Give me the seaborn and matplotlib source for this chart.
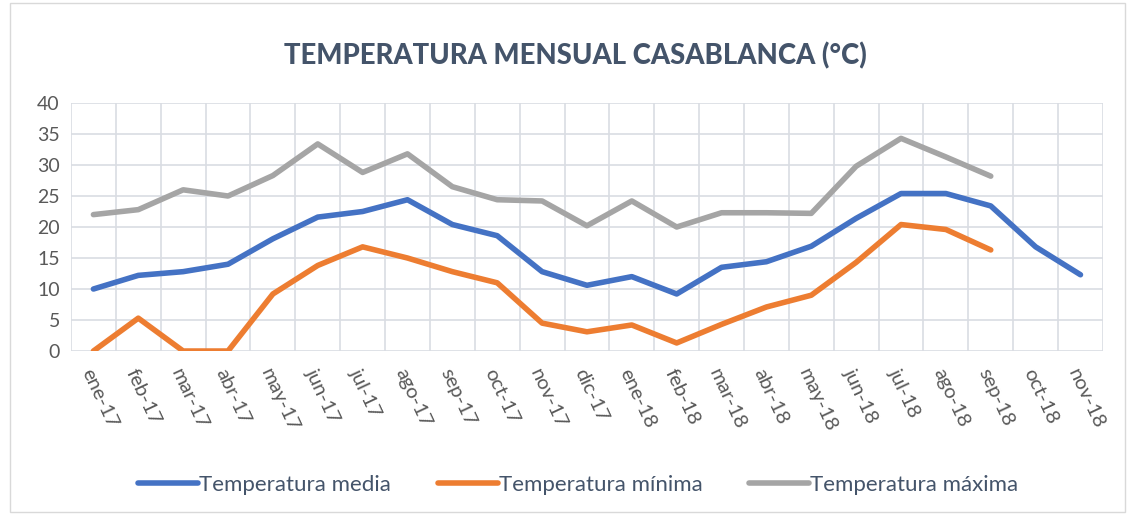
import matplotlib
matplotlib.use('Agg')

import matplotlib.pyplot as plt
import numpy as np
import pandas as pd
import seaborn as sns
from matplotlib.patches import Rectangle

# Datos
meses = ['ene-17', 'feb-17', 'mar-17', 'abr-17', 'may-17', 'jun-17', 'jul-17',
         'ago-17', 'sep-17', 'oct-17', 'nov-17', 'dic-17', 'ene-18', 'feb-18',
         'mar-18', 'abr-18', 'may-18', 'jun-18', 'jul-18', 'ago-18', 'sep-18',
         'oct-18', 'nov-18']
temp_media = [10.0, 12.2, 12.8, 14.0, 18.1, 21.6, 22.5, 24.4, 20.4, 18.6, 12.8, 10.6,
              12.0, 9.2, 13.5, 14.4, 16.9, 21.4, 25.4, 25.4, 23.4, 16.8, 12.3]
temp_minima = [0.0, 5.3, 0.0, 0.0, 9.2, 13.8, 16.8, 15.0, 12.8, 11.0, 4.5, 3.1,
               4.2, 1.3, 4.3, 7.1, 9.0, 14.3, 20.4, 19.6, 16.3, np.nan, np.nan]
temp_maxima = [22.0, 22.8, 26.0, 25.0, 28.3, 33.4, 28.8, 31.8, 26.5, 24.4, 24.2, 20.2,
               24.2, 20.0, 22.3, 22.3, 22.2, 29.8, 34.3, 31.3, 28.2, np.nan, np.nan]
series = ['Temperatura media', 'Temperatura mínima', 'Temperatura máxima']
y_ticks = [0, 5, 10, 15, 20, 25, 30, 35, 40]

colores = ['#4472C4', '#ED7D31', '#A5A5A5']
texto = '#595959'

df = pd.DataFrame({
    'pos': np.tile(np.arange(len(meses)), 3),
    'serie': np.repeat(series, len(meses)),
    'valor': temp_media + temp_minima + temp_maxima,
}).dropna()

sns.set_style('white')
plt.rcParams['font.family'] = ['Lato', 'DejaVu Sans']

fig = plt.figure(figsize=(11.34, 5.15), dpi=100)
ax = fig.add_axes([0.0626, 0.3184, 0.91, 0.4816])

sns.lineplot(data=df, x='pos', y='valor', hue='serie', hue_order=series,
             palette=colores, linewidth=4, sort=False, ax=ax,
             solid_capstyle='round', solid_joinstyle='round')

ax.set_xlim(-0.5, len(meses) - 0.5)
ax.set_ylim(0, 40)
ax.set_yticks(y_ticks)
ax.set_xticks(np.arange(len(meses)))
ax.set_xticklabels(meses, rotation=-65, ha='left', va='top', rotation_mode='anchor')
ax.set_xticks(np.arange(len(meses) + 1) - 0.5, minor=True)
ax.tick_params(axis='x', which='both', length=0, labelsize=14.5, colors=texto, pad=11)
ax.tick_params(axis='y', length=0, labelsize=14, colors=texto, pad=8)
ax.grid(axis='y', which='major', color='#D9DDE3', linewidth=1.2)
ax.grid(axis='x', which='minor', color='#D9DDE3', linewidth=1.2)
ax.set_axisbelow(True)
for s in ax.spines.values():
    s.set_visible(False)
ax.set_xlabel('')
ax.set_ylabel('')

ax.set_title('TEMPERATURA MENSUAL CASABLANCA (°C)', fontsize=19.8, fontweight='black',
             color='#44546A', pad=28, x=0.489)

handles, labels = ax.get_legend_handles_labels()
ax.legend(handles, labels, loc='center', bbox_to_anchor=(0.51, 0.058),
          bbox_transform=fig.transFigure, ncol=3, frameon=False, fontsize=16,
          handlelength=2.7, handletextpad=0.05, columnspacing=2.1, labelcolor='#44546A')

fig.patches.append(Rectangle((0.009, 0.005), 0.983, 0.99, transform=fig.transFigure,
                             fill=False, edgecolor='#D9D9D9', linewidth=1))

fig.savefig('out.png', dpi=100)
plt.close(fig)
